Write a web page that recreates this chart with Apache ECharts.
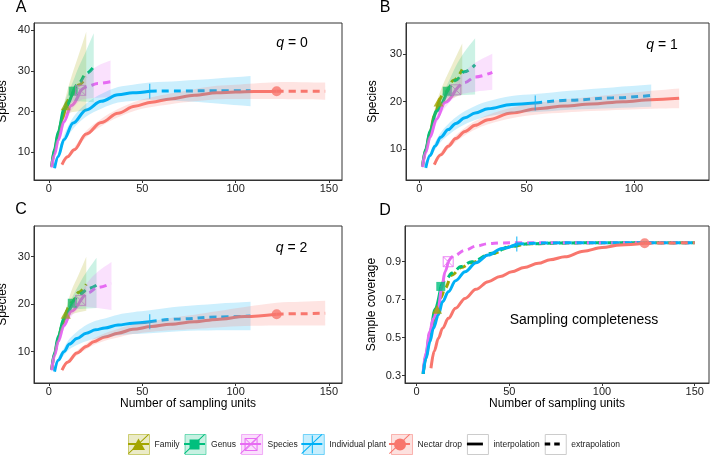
<!DOCTYPE html>
<html><head><meta charset="utf-8">
<script src="https://cdn.jsdelivr.net/npm/echarts@6/dist/echarts.min.js"></script>
<style>html,body{margin:0;padding:0;background:#fff}#c{width:713px;height:456px}</style>
</head><body><div id="c"></div>
<script>
// ---------- categories ----------
const groupNames = ['Family', 'Genus', 'Species', 'Individual plant', 'Nectar drop'];
const styleNames = ['interpolation', 'extrapolation'];

// ---------- tick labels ----------
const ticksX_A = [0, 50, 100, 150];
const ticksX_B = [0, 50, 100];
const ticksX_C = [0, 50, 100, 150];
const ticksX_D = [0, 50, 100, 150];
const ticksY_A = [10, 20, 30, 40];
const ticksY_B = [10, 20, 30];
const ticksY_C = [10, 20, 30];
const ticksY_D = [0.3, 0.5, 0.7, 0.9];

// ---------- Panel A (q = 0) ----------
const A_fam_x = [1.5, 3, 5, 7, 9, 12, 16, 20];
const A_fam_y = [6.5, 10.5, 14.5, 18, 21.4, 24, 26.5, 28.5];
const A_fam_lo = [6, 9.8, 13.5, 16.6, 19.2, 19.8, 20.1, 20.3];
const A_fam_hi = [7, 11.2, 15.5, 19.4, 23.6, 28.5, 34, 39.6];
const A_gen_x = [1.5, 3, 5, 8, 13, 16, 20, 24];
const A_gen_y = [6.5, 10.8, 15, 20.5, 25, 27, 29.3, 31];
const A_gen_lo = [6, 10, 14, 19.2, 22.5, 22.5, 22.4, 22.3];
const A_gen_hi = [7, 11.6, 16, 21.8, 27.5, 31, 35, 39.2];
const A_spe_x = [1.5, 3, 5, 8, 12, 17, 21, 26, 33];
const A_spe_y = [6.3, 9.5, 13, 17.5, 21.5, 25.2, 26.2, 26.9, 27.3];
const A_spe_lo = [5.8, 9, 12.3, 16.5, 20.2, 22.8, 23.2, 23.4, 23.5];
const A_spe_hi = [6.8, 10, 13.7, 18.5, 22.8, 27.6, 29.5, 31.2, 32.5];
const A_pla_x = [3, 5, 8, 13, 20, 28, 37, 45, 54, 70, 90, 108];
const A_pla_y = [6.1, 9, 13.1, 17.2, 20.4, 22.5, 24.1, 24.6, 25, 25.05, 25.1, 25.1];
const A_pla_lo = [5.8, 8.4, 12.1, 15.8, 18.8, 20.7, 22.2, 22.6, 22.9, 22.6, 22, 21.3];
const A_pla_hi = [6.4, 9.6, 14.1, 18.6, 22, 24.3, 26, 26.6, 27.1, 27.5, 28.1, 28.7];
const A_nec_x = [7, 10, 13.5, 20, 28, 37, 46, 55, 65, 78, 90, 100, 110, 122, 135, 148];
const A_nec_y = [7, 8.9, 10.6, 14.5, 17.3, 19.6, 21.3, 22.3, 23.1, 24, 24.6, 24.8, 24.9, 25, 25, 25];
const A_nec_lo = [6.6, 8.4, 10.0, 13.7, 16.4, 18.6, 20.2, 21.1, 21.8, 22.5, 23.0, 23.1, 23.1, 23.1, 23.0, 22.9];
const A_nec_hi = [7.4, 9.4, 11.2, 15.3, 18.2, 20.6, 22.4, 23.5, 24.4, 25.5, 26.3, 26.6, 26.9, 27.2, 27.2, 27.1];
const A_obs = [9, 13, 17, 54, 122];
const A_mark = [1, 1, 1, 1, 1];

// ---------- Panel B (q = 1) ----------
const B_fam_x = [1.5, 3, 5, 7, 9, 12, 16, 20];
const B_fam_y = [6.3, 9.8, 13.5, 17.2, 19.9, 22, 24.5, 26.8];
const B_fam_lo = [5.8, 9.2, 12.8, 16.3, 18.6, 19.8, 20.8, 21.5];
const B_fam_hi = [6.8, 10.4, 14.2, 18.1, 21.2, 24.6, 28.5, 32.3];
const B_gen_x = [1.5, 3, 5, 8, 13, 17, 21, 26];
const B_gen_y = [6.3, 10, 13.8, 18, 22.2, 24.5, 26.3, 27.8];
const B_gen_lo = [5.8, 9.4, 13, 17, 20.8, 21.2, 21.4, 21.5];
const B_gen_hi = [6.8, 10.6, 14.6, 19, 23.6, 27.5, 30.5, 33.4];
const B_spe_x = [1.5, 3, 5, 8, 12, 17, 21, 26, 34];
const B_spe_y = [6.2, 9.3, 12.5, 16.3, 19.8, 22.5, 24, 25.2, 26.2];
const B_spe_lo = [5.7, 8.8, 11.8, 15.4, 18.7, 21.1, 21.7, 22.1, 22.5];
const B_spe_hi = [6.7, 9.8, 13.2, 17.2, 20.9, 24, 26.3, 28.2, 30.1];
const B_pla_x = [3, 5, 7.3, 10, 13.5, 17, 21.3, 26, 32, 43, 54, 70, 90, 108];
const B_pla_y = [6, 8.6, 10.6, 12.5, 14.1, 15.4, 16.6, 17.6, 18.5, 19.4, 19.7, 20.3, 20.8, 21.3];
const B_pla_lo = [5.7, 8.0, 9.8, 11.5, 12.9, 14.1, 15.2, 16.1, 16.9, 17.6, 17.8, 18.3, 18.6, 18.9];
const B_pla_hi = [6.3, 9.2, 11.4, 13.5, 15.3, 16.7, 18.0, 19.1, 20.1, 21.2, 21.6, 22.3, 23.0, 23.6];
const B_nec_x = [7, 10, 13.5, 17, 21.3, 26, 32, 43, 55, 68, 80, 95, 108, 121];
const B_nec_y = [6.7, 8.8, 10.6, 12.2, 13.7, 15, 16.2, 17.6, 18.5, 19.1, 19.5, 20, 20.4, 20.7];
const B_nec_lo = [6.4, 8.3, 10.0, 11.5, 12.9, 14.1, 15.2, 16.5, 17.3, 17.7, 18.0, 18.3, 18.5, 18.6];
const B_nec_hi = [7.0, 9.3, 11.2, 12.9, 14.5, 15.9, 17.2, 18.7, 19.7, 20.5, 21.0, 21.7, 22.3, 22.8];
const B_obs = [9, 13, 17, 54, 121];
const B_mark = [1, 1, 1, 1, 0];

// ---------- Panel C (q = 2) ----------
const C_fam_x = [1.5, 3, 5, 7, 9, 12, 16, 20];
const C_fam_y = [6.2, 9.5, 12.8, 15.5, 17.9, 20.3, 22.5, 24.2];
const C_fam_lo = [5.8, 9, 12.2, 14.7, 16.9, 17.8, 18.3, 18.6];
const C_fam_hi = [6.6, 10, 13.4, 16.3, 18.9, 22.8, 26.3, 30];
const C_gen_x = [1.5, 3, 5, 8, 12.5, 17, 21, 25.5];
const C_gen_y = [6.2, 9.7, 13.2, 17, 20.2, 22.2, 23.3, 24];
const C_gen_lo = [5.8, 9.2, 12.5, 16, 18.9, 19, 19.1, 19.2];
const C_gen_hi = [6.6, 10.2, 13.9, 18, 21.5, 24.8, 27.3, 29.8];
const C_spe_x = [1.5, 3, 5, 8, 12, 17, 21, 26, 33.5];
const C_spe_y = [6.1, 9.2, 12.2, 15.5, 18.5, 20.8, 22.4, 23.5, 24.4];
const C_spe_lo = [5.7, 8.8, 11.6, 14.7, 17.4, 19.4, 19.4, 19.2, 18.8];
const C_spe_hi = [6.5, 9.6, 12.8, 16.3, 19.6, 22.2, 24.8, 26.8, 28.9];
const C_pla_x = [3, 5, 8, 11, 15, 20, 25, 30, 37, 45, 54, 70, 90, 108];
const C_pla_y = [5.8, 8.2, 10, 11.6, 12.8, 13.9, 14.6, 15, 15.6, 16, 16.3, 16.9, 17.3, 17.5];
const C_pla_lo = [5.5, 7.6, 9.2, 10.5, 11.4, 12.2, 12.7, 13.0, 13.4, 13.7, 13.9, 14.3, 14.5, 14.5];
const C_pla_hi = [6.1, 8.8, 10.8, 12.7, 14.2, 15.6, 16.5, 17.0, 17.8, 18.3, 18.7, 19.5, 20.1, 20.5];
const C_nec_x = [7, 10, 15, 20, 24, 30, 37, 45, 55, 65, 78, 90, 105, 122, 135, 148];
const C_nec_y = [6.1, 7.8, 9.7, 11.1, 12.1, 13.1, 13.9, 14.7, 15.3, 15.8, 16.3, 16.8, 17.4, 17.9, 18, 18.1];
const C_nec_lo = [5.8, 7.4, 9.2, 10.5, 11.4, 12.3, 13.0, 13.7, 14.2, 14.5, 14.8, 15.1, 15.4, 15.5, 15.5, 15.5];
const C_nec_hi = [6.4, 8.2, 10.2, 11.7, 12.8, 13.9, 14.8, 15.7, 16.4, 17.1, 17.8, 18.5, 19.4, 20.3, 20.5, 20.7];
const C_obs = [9, 12.5, 17, 54, 122];
const C_mark = [1, 1, 1, 1, 1];

// ---------- Panel D (sample coverage) ----------
const D_fam_x = [3.5, 5, 7, 9, 11, 13, 15.3, 19, 24, 29.7, 40.5, 51, 60, 80, 100, 125, 150];
const D_fam_y = [0.31, 0.4, 0.5, 0.58, 0.65, 0.71, 0.76, 0.83, 0.87, 0.895, 0.942, 0.98, 0.994, 0.999, 1, 1, 1];
const D_gen_x = [3.5, 5, 7, 10, 13, 16, 19, 24, 29.7, 40.5, 51, 60, 80, 100, 125, 150];
const D_gen_y = [0.31, 0.41, 0.52, 0.65, 0.77, 0.81, 0.84, 0.875, 0.9, 0.944, 0.982, 0.994, 0.999, 1, 1, 1];
const D_spe_x = [3.5, 5, 7, 9, 11.7, 13.5, 15.3, 17, 20, 26, 32, 38.6, 45, 55, 80, 100, 125, 150];
const D_spe_y = [0.32, 0.42, 0.53, 0.6, 0.66, 0.76, 0.847, 0.9, 0.93, 0.96, 0.982, 0.995, 0.999, 1, 1, 1, 1, 1];
const D_pla_x = [3.5, 5, 7.2, 9, 11.7, 14, 17.1, 21, 26.1, 32, 38.6, 46, 54, 70, 90, 110, 130, 150];
const D_pla_y = [0.31, 0.39, 0.48, 0.55, 0.62, 0.69, 0.742, 0.8, 0.847, 0.895, 0.935, 0.97, 0.993, 0.999, 1, 1, 1, 1];
const D_nec_x = [7.7, 9.5, 11.7, 14, 17.1, 21, 26.1, 32, 38.6, 45, 51.3, 58, 65.6, 72, 80, 90, 100, 110, 123, 135, 150];
const D_nec_y = [0.339, 0.43, 0.497, 0.55, 0.602, 0.655, 0.707, 0.755, 0.795, 0.822, 0.847, 0.87, 0.892, 0.91, 0.926, 0.955, 0.975, 0.988, 0.997, 0.999, 1];
const D_obs = [11, 13, 17, 54, 123];
const D_mark = [1, 1, 1, 1, 1];

// ---------- styling ----------
const FONT = '"Liberation Sans", Arial, Helvetica, sans-serif';
const groupColors = ['#A3A500', '#00BF7D', '#E76BF3', '#00B0F6', '#F8766D'];
const SMOOTH = 0.35;
function rgba(hex, a) {
  const n = parseInt(hex.slice(1), 16);
  return 'rgba(' + ((n >> 16) & 255) + ',' + ((n >> 8) & 255) + ',' + (n & 255) + ',' + a + ')';
}
const BOXX = 'path://M0,0H10V10H0Z M0,0L10,10 M10,0L0,10';
const markerStyles = [
  { symbol: 'triangle', symbolSize: [10, 9], itemStyle: c => ({ color: c }) },
  { symbol: 'rect', symbolSize: 9, itemStyle: c => ({ color: c }) },
  { symbol: BOXX, symbolSize: 10, itemStyle: c => ({ color: 'rgba(0,0,0,0)', borderColor: c, borderWidth: 1 }) },
  { symbol: 'rect', symbolSize: [1.2, 15], itemStyle: c => ({ color: c }) },
  { symbol: 'circle', symbolSize: 10, itemStyle: c => ({ color: c }) }
];

// smooth bezier path segments through pixel points (rendering only)
function bezierThrough(p) {
  let d = '';
  const n = p.length;
  const cps = p.map((pt, i) => {
    const prev = p[Math.max(i - 1, 0)], next = p[Math.min(i + 1, n - 1)];
    const dx = next[0] - prev[0], dy = next[1] - prev[1];
    const lp = Math.hypot(pt[0] - prev[0], pt[1] - prev[1]);
    const ln = Math.hypot(next[0] - pt[0], next[1] - pt[1]);
    const r = (lp + ln) > 0 ? ln / (lp + ln) : 0.5;
    return {
      out: [pt[0] + dx * SMOOTH * r, pt[1] + dy * SMOOTH * r],
      inn: [pt[0] - dx * SMOOTH * (1 - r), pt[1] - dy * SMOOTH * (1 - r)]
    };
  });
  for (let i = 0; i < n - 1; i++) {
    const a = cps[i].out, b = cps[i + 1].inn, q = p[i + 1];
    d += 'C' + a[0] + ',' + a[1] + ',' + b[0] + ',' + b[1] + ',' + q[0] + ',' + q[1];
  }
  return d;
}

const panels = [
  { groups: [[A_fam_x, A_fam_y, A_fam_lo, A_fam_hi], [A_gen_x, A_gen_y, A_gen_lo, A_gen_hi], [A_spe_x, A_spe_y, A_spe_lo, A_spe_hi], [A_pla_x, A_pla_y, A_pla_lo, A_pla_hi], [A_nec_x, A_nec_y, A_nec_lo, A_nec_hi]], obs: A_obs, mark: A_mark },
  { groups: [[B_fam_x, B_fam_y, B_fam_lo, B_fam_hi], [B_gen_x, B_gen_y, B_gen_lo, B_gen_hi], [B_spe_x, B_spe_y, B_spe_lo, B_spe_hi], [B_pla_x, B_pla_y, B_pla_lo, B_pla_hi], [B_nec_x, B_nec_y, B_nec_lo, B_nec_hi]], obs: B_obs, mark: B_mark },
  { groups: [[C_fam_x, C_fam_y, C_fam_lo, C_fam_hi], [C_gen_x, C_gen_y, C_gen_lo, C_gen_hi], [C_spe_x, C_spe_y, C_spe_lo, C_spe_hi], [C_pla_x, C_pla_y, C_pla_lo, C_pla_hi], [C_nec_x, C_nec_y, C_nec_lo, C_nec_hi]], obs: C_obs, mark: C_mark },
  { groups: [[D_fam_x, D_fam_y], [D_gen_x, D_gen_y], [D_spe_x, D_spe_y], [D_pla_x, D_pla_y], [D_nec_x, D_nec_y]], obs: D_obs, mark: D_mark }
];

const lineSeries = [], bandSeries = [], markSeries = [];
panels.forEach((p, gi) => {
  p.groups.forEach((g, k) => {
    const xs = g[0], ys = g[1], lo = g[2], hi = g[3];
    const obs = p.obs[k], col = groupColors[k], name = groupNames[k];
    const pts = xs.map((x, i) => [x, ys[i]]);
    const inter = pts.filter(d => d[0] <= obs);
    const extra = pts.filter(d => d[0] >= obs);
    const common = { type: 'line', name, xAxisIndex: gi, yAxisIndex: gi, symbol: 'none', showSymbol: false,
      smooth: SMOOTH, smoothMonotone: 'x', silent: true, z: 2 };
    lineSeries.push(Object.assign({}, common, { data: inter, lineStyle: { color: col, width: 3, cap: 'butt' } }));
    if (extra.length > 1) {
      lineSeries.push(Object.assign({}, common, { data: extra, lineStyle: { color: col, width: 3, type: [7, 5], cap: 'butt' } }));
    }
    if (lo) {
      const fill = rgba(col, 0.2);
      bandSeries.push({ type: 'custom', name, xAxisIndex: gi, yAxisIndex: gi, z: 4, silent: true, clip: true,
        data: xs.map((x, i) => [x, lo[i], hi[i]]),
        encode: { x: 0, y: [1, 2] },
        renderItem: function (params, api) {
          if (params.dataIndex !== 0) return null;
          const up = xs.map((x, i) => api.coord([x, hi[i]]));
          const dn = xs.map((x, i) => api.coord([x, lo[i]])).reverse();
          const d = 'M' + up[0][0] + ',' + up[0][1] + bezierThrough(up) +
                    'L' + dn[0][0] + ',' + dn[0][1] + bezierThrough(dn) + 'Z';
          return { type: 'path', shape: { pathData: d }, style: { fill: fill, stroke: null } };
        } });
    }
    if (p.mark[k]) {
      const idx = xs.indexOf(obs);
      const ms = markerStyles[k];
      markSeries.push({ type: 'scatter', name, xAxisIndex: gi, yAxisIndex: gi, silent: true, z: 3,
        symbol: ms.symbol, symbolSize: ms.symbolSize, itemStyle: ms.itemStyle(col),
        data: [[obs, ys[idx]]] });
    }
  });
});
const dummySeries = styleNames.map(n => ({ type: 'line', name: n, data: [], xAxisIndex: 0, yAxisIndex: 0 }));

// ---------- axes ----------
function mkX(gi, min, max, ticks, name) {
  return { type: 'value', gridIndex: gi, min, max, name: name || '', nameLocation: 'middle', nameGap: 13,
    nameTextStyle: { fontSize: 12, color: '#000', fontFamily: FONT },
    axisLine: { show: true, onZero: false, lineStyle: { color: '#333', width: 1 } }, splitLine: { show: false },
    axisTick: { show: true, length: 3, lineStyle: { color: '#333', width: 1 }, customValues: ticks },
    axisLabel: { show: true, margin: 3, fontSize: 11, color: '#222', fontFamily: FONT, customValues: ticks, hideOverlap: false } };
}
function mkY(gi, min, max, ticks, name, gap) {
  return { type: 'value', gridIndex: gi, min, max, name, nameLocation: 'middle', nameGap: gap, nameRotate: 90,
    nameTextStyle: { fontSize: 12, color: '#000', fontFamily: FONT },
    axisLine: { show: true, onZero: false, lineStyle: { color: '#333', width: 1 } }, splitLine: { show: false },
    axisTick: { show: true, length: 3, lineStyle: { color: '#333', width: 1 }, customValues: ticks },
    axisLabel: { show: true, margin: 4, fontSize: 11, color: '#222', fontFamily: FONT, customValues: ticks, hideOverlap: false } };
}
const gridBase = { show: true, borderColor: '#333', borderWidth: 1, backgroundColor: 'transparent', containLabel: false, outerBoundsMode: 'none' };

// ---------- legend (three stacked layers: box, lines, markers) ----------
const ANCH = 'M0,0M21,20';
const legendBase = { left: 128, top: 434, itemWidth: 21, itemHeight: 20, itemGap: 5, padding: 0, selectedMode: false,
  orient: 'horizontal', textStyle: { fontSize: 8.5, color: '#222', fontFamily: FONT } };
const legendBox = Object.assign({}, legendBase, { z: 10,
  data: groupNames.map((n, k) => ({ name: n, icon: 'rect', itemStyle: { color: rgba(groupColors[k], 0.22), borderColor: rgba(groupColors[k], 0.5), borderWidth: 1 } }))
    .concat(styleNames.map(n => ({ name: n, icon: 'rect', itemStyle: { color: '#fff', borderColor: '#ccc', borderWidth: 1 } }))) });
const legendLine = Object.assign({}, legendBase, { z: 11, textStyle: { fontSize: 8.5, color: 'rgba(0,0,0,0)', fontFamily: FONT },
  data: groupNames.map((n, k) => ({ name: n, icon: 'path://' + ANCH + 'M0,19.3L20.3,0L21,0.7L0.7,20Z M0,9.1H21V10.9H0Z', itemStyle: { color: groupColors[k], borderWidth: 0 } }))
    .concat([{ name: 'interpolation', icon: 'path://' + ANCH + 'M2.5,8.6H18.5V11.4H2.5Z', itemStyle: { color: '#000', borderWidth: 0 } },
             { name: 'extrapolation', icon: 'path://' + ANCH + 'M3,8.6H8.5V11.4H3Z M12.5,8.6H18V11.4H12.5Z', itemStyle: { color: '#000', borderWidth: 0 } }]) });
const legendMarkIcons = [
  'path://' + ANCH + 'M10.5,4L17,15.5H4Z',
  'path://' + ANCH + 'M5.5,5H15.5V15H5.5Z',
  'path://' + ANCH + 'M4.5,4H16.5V16H4.5Z M4.5,4L16.5,16 M16.5,4L4.5,16',
  'path://' + ANCH + 'M10,1H11V19H10Z',
  'path://' + ANCH + 'M4.5,10A6,6,0,1,0,16.5,10A6,6,0,1,0,4.5,10Z'
];
const legendMark = Object.assign({}, legendBase, { z: 12, textStyle: { fontSize: 8.5, color: 'rgba(0,0,0,0)', fontFamily: FONT },
  data: groupNames.map((n, k) => ({ name: n, icon: legendMarkIcons[k],
      itemStyle: k === 2 ? { color: 'rgba(0,0,0,0)', borderColor: groupColors[k], borderWidth: 1 } : { color: groupColors[k], borderWidth: 0 } }))
    .concat(styleNames.map(n => ({ name: n, icon: 'path://' + ANCH, itemStyle: { color: 'rgba(0,0,0,0)', borderWidth: 0 } }))) });

// ---------- annotations ----------
function txt(x, y, text, size, rich) {
  const st = { text, x: 0, y: 0, fontSize: size, fontFamily: FONT, fill: '#000',
    textAlign: 'center', textVerticalAlign: 'middle', align: 'center', verticalAlign: 'middle' };
  if (rich) st.rich = rich;
  return { type: 'text', x, y, silent: true, z: 20, style: st };
}
const qRich = { i: { fontStyle: 'italic', fontSize: 14, fontFamily: FONT, fill: '#000' }, n: { fontSize: 14, fontFamily: FONT, fill: '#000' } };

const option = {
  animation: false,
  backgroundColor: '#fff',
  textStyle: { fontFamily: FONT },
  grid: [
    Object.assign({ left: 34, top: 23, width: 308, height: 157 }, gridBase),
    Object.assign({ left: 406, top: 23, width: 303, height: 157 }, gridBase),
    Object.assign({ left: 34, top: 226, width: 308, height: 157 }, gridBase),
    Object.assign({ left: 405, top: 226, width: 304, height: 157 }, gridBase)
  ],
  xAxis: [
    mkX(0, -8, 157, ticksX_A, ''),
    mkX(1, -6.19, 134.9, ticksX_B, ''),
    mkX(2, -8, 157, ticksX_C, 'Number of sampling units'),
    mkX(3, -6.3, 157.7, ticksX_D, 'Number of sampling units')
  ],
  yAxis: [
    mkY(0, 3.21, 41.72, ticksY_A, 'Species', 25),
    mkY(1, 3.45, 36.61, ticksY_B, 'Species', 27),
    mkY(2, 3.41, 36.46, ticksY_C, 'Species', 25),
    mkY(3, 0.2616, 1.088, ticksY_D, 'Sample coverage', 27)
  ],
  legend: [legendBox, legendLine, legendMark],
  graphic: { elements: [
    txt(21, 8, 'A', 16), txt(385, 8, 'B', 16), txt(21, 210, 'C', 16), txt(385, 211, 'D', 16),
    txt(292, 43.5, '{i|q}{n| = 0}', 14, qRich),
    txt(662, 45, '{i|q}{n| = 1}', 14, qRich),
    txt(291.5, 248.5, '{i|q}{n| = 2}', 14, qRich),
    txt(584, 320, 'Sampling completeness', 14)
  ] },
  series: lineSeries.concat(markSeries, bandSeries, dummySeries)
};

const chart = echarts.init(document.getElementById('c'), null, { renderer: 'canvas' });
chart.setOption(option);
</script>
</body></html>
